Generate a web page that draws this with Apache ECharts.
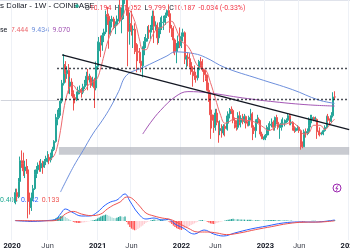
<!DOCTYPE html>
<html>
<head>
<meta charset="utf-8">
<script src="https://cdn.jsdelivr.net/npm/echarts@6/dist/echarts.min.js"></script>
<style>
    html, body {margin:0;padding:0;background:#fff;}
    #chart {width:350px;height:250px;}
</style>
</head>
<body>
<div id="chart"></div>
<script>
    // weekly categories, first one is the week of 2019-11-11
    var weekCount = 217;
    var firstCandle = 9; // first candle = week of 2020-01-13

    // weekly candles: [open, close, low, high]
    var candles = [
        [2.25,2.6,2.2,2.75],[2.6,2.45,2.3,2.75],[2.45,3.05,2.4,3.2],[3.05,4.1,3.0,4.35],[4.1,3.95,3.7,4.75],
        [3.95,3.55,3.3,4.6],[3.55,3.75,3.2,4.1],[3.75,3.6,3.4,4.2],[3.6,2.3,1.8,3.8],[2.3,2.1,1.9,2.6],
        [2.1,2.4,2.0,2.6],[2.4,2.75,2.3,2.9],[2.75,3.35,2.7,3.6],[3.35,3.6,3.2,3.8],[3.6,3.85,3.4,4.0],
        [3.85,3.7,3.5,4.1],[3.7,3.95,3.5,4.2],[3.95,3.75,3.4,4.1],[3.75,4.05,3.7,4.2],[4.05,4.25,3.85,4.4],
        [4.25,4.3,4.0,4.7],[4.3,4.15,3.9,4.5],[4.15,4.4,4.0,4.6],[4.4,4.8,4.3,5.0],[4.8,5.4,4.7,5.5],
        [5.4,7.4,5.3,8.0],[7.4,7.6,6.8,8.5],[7.6,8.2,7.4,8.7],[8.2,9.6,7.8,10.0],[9.6,12.4,9.3,13.0],
        [12.4,16.2,12.0,18.8],[16.2,14.2,12.5,17.0],[14.2,14.9,13.2,15.8],[14.9,11.9,10.7,16.3],[11.9,12.6,10.6,13.6],
        [12.6,10.9,10.3,13.3],[10.9,10.1,8.4,11.2],[10.1,9.8,9.3,10.6],[9.8,10.6,9.6,11.0],[10.6,11.2,10.4,11.8],
        [11.2,11.3,10.6,12.0],[11.3,10.9,10.1,11.6],[10.9,11.8,10.6,12.3],[11.8,12.3,11.4,13.0],[12.3,13.7,12.0,14.6],
        [13.7,13.0,11.2,15.2],[13.0,13.4,12.5,14.2],[13.4,12.0,11.6,13.8],[12.0,13.0,11.8,13.6],[13.0,11.6,8.7,13.4],
        [11.6,15.8,11.2,16.9],[15.8,19.7,15.0,22.5],[19.7,22.2,17.5,24.0],[22.2,21.4,18.0,24.5],[21.4,24.5,19.7,25.5],
        [24.5,25.8,22.3,27.0],[25.8,33.0,25.0,35.0],[33.0,32.3,28.5,36.9],[32.3,25.0,20.3,33.5],[25.0,30.0,24.5,31.0],
        [30.0,31.0,27.5,32.5],[31.0,27.5,26.8,32.0],[27.5,28.6,25.0,30.0],[28.6,31.0,28.0,32.6],[31.0,36.6,30.0,38.0],
        [36.6,30.8,29.5,44.3],[30.8,31.6,25.3,36.5],[31.6,41.4,31.0,42.2],[41.4,49.5,38.5,52.0],[49.5,36.5,32.5,52.8],
        [36.5,26.0,15.8,41.0],[26.0,29.0,21.5,34.0],[29.0,26.5,24.5,35.0],[26.5,26.8,20.5,28.3],[26.8,19.8,18.8,29.2],
        [19.8,19.5,14.5,22.0],[19.5,19.3,17.0,21.6],[19.3,17.0,16.5,20.5],[17.0,15.9,14.5,17.9],[15.9,20.5,13.5,21.0],
        [20.5,22.5,18.5,24.0],[22.5,23.5,20.5,25.0],[23.5,26.5,22.5,28.0],[26.5,25.7,23.5,28.5],[25.7,27.5,23.3,28.5],
        [27.5,32.3,26.5,35.0],[32.3,28.0,22.0,35.0],[28.0,28.4,26.5,30.0],[28.4,23.7,21.5,29.5],[23.7,26.2,22.0,27.5],
        [26.2,29.5,25.0,31.8],[29.5,29.6,26.5,32.5],[29.6,31.3,26.5,32.5],[31.3,32.6,28.5,34.0],[32.6,35.0,31.5,35.5],
        [35.0,33.5,32.0,38.2],[33.5,27.2,25.5,34.0],[27.2,25.8,24.0,28.5],[25.8,23.0,19.0,28.0],[23.0,19.5,18.5,23.5],
        [19.5,20.5,16.5,22.0],[20.5,22.5,19.5,24.5],[22.5,21.2,20.5,27.5],[21.2,24.2,20.5,25.6],[24.2,25.5,22.5,27.0],
        [25.5,17.5,16.3,26.0],[17.5,18.0,15.5,18.5],[18.0,17.6,15.8,19.3],[17.6,16.7,15.5,19.0],[16.7,14.6,14.0,17.5],
        [14.6,14.5,11.8,15.8],[14.5,13.8,13.0,16.0],[13.8,13.4,12.5,14.6],[13.4,15.0,12.9,15.5],[15.0,16.9,14.8,17.3],
        [16.9,15.9,15.5,18.0],[15.9,15.0,14.6,17.5],[15.0,14.0,12.6,15.3],[14.0,13.3,12.8,15.0],[13.3,11.2,11.0,14.0],
        [11.2,10.6,9.5,12.5],[10.6,7.9,5.6,10.9],[7.9,7.3,6.5,8.5],[7.3,6.6,6.1,7.9],[6.6,8.1,6.3,8.6],
        [8.1,7.1,6.8,8.6],[7.1,6.3,5.3,7.2],[6.3,6.5,5.9,7.3],[6.5,6.1,5.7,6.9],[6.1,6.7,5.9,6.9],
        [6.7,6.5,5.8,6.9],[6.5,7.0,6.4,7.8],[7.0,8.0,6.3,8.3],[8.0,8.5,7.5,8.7],[8.5,8.4,8.0,8.9],
        [8.4,7.3,7.0,8.6],[7.3,6.9,6.5,7.6],[6.9,6.6,6.3,7.3],[6.6,7.8,6.4,8.2],[7.8,7.1,6.8,8.3],
        [7.1,7.5,6.6,7.8],[7.5,7.2,6.9,8.0],[7.2,7.7,7.0,8.0],[7.7,7.0,6.5,7.8],[7.0,6.8,6.7,7.2],
        [6.8,7.6,6.7,7.8],[7.6,8.0,7.3,8.6],[8.0,6.6,5.5,8.2],[6.6,6.3,6.0,6.8],[6.3,7.3,5.7,7.4],
        [7.3,7.4,7.0,7.9],[7.4,7.3,7.0,7.6],[7.3,6.0,5.8,7.3],[6.0,5.6,5.6,6.2],[5.6,5.6,5.5,5.8],
        [5.6,5.9,5.5,6.0],[5.9,6.6,5.7,6.8],[6.6,6.8,5.9,7.0],[6.8,6.9,6.3,7.2],[6.9,7.1,6.6,7.5],
        [7.1,6.6,6.3,7.3],[6.6,7.6,6.3,7.7],[7.6,7.1,6.9,7.9],[7.1,6.6,6.4,7.2],[6.6,6.6,5.6,6.9],
        [6.6,7.0,6.3,7.4],[7.0,7.0,6.6,7.6],[7.0,7.1,6.7,7.4],[7.1,7.3,7.0,7.5],[7.3,7.8,7.1,8.1],
        [7.8,7.0,6.8,8.0],[7.0,7.1,6.8,7.4],[7.1,6.6,6.3,7.2],[6.6,6.3,6.1,6.7],[6.3,6.5,6.2,6.6],
        [6.5,6.6,6.3,6.8],[6.6,6.3,6.1,6.7],[6.3,5.2,4.8,6.4],[5.2,5.0,4.9,5.4],[5.0,6.2,5.0,6.4],
        [6.2,6.1,5.7,6.5],[6.1,6.2,5.9,6.5],[6.2,6.8,6.0,7.6],[6.8,7.4,6.6,7.9],[7.4,7.6,7.0,7.9],
        [7.6,7.4,7.2,7.7],[7.4,7.4,7.2,7.7],[7.4,6.2,5.6,7.5],[6.2,6.1,5.9,6.3],[6.1,6.0,5.8,6.6],
        [6.0,6.1,5.9,6.2],[6.1,6.3,5.9,6.4],[6.3,6.6,6.2,6.8],[6.6,7.7,6.5,7.8],[7.7,7.3,7.1,8.0],
        [7.3,7.2,6.9,7.5],[7.2,7.8,7.0,8.2],[7.8,10.19,7.6,10.9],[10.194,10.187,9.799,11.052]
    ];

    // moving averages: [week index, price]
    var maRed = [[30,4.1],[33,4.4],[35,5.0],[37,6.3],[39,8.5],[41,10.5],[43,11.8],[45,12.0],[47,11.3],[49,10.9],
        [52,11.2],[55,12.3],[58,12.8],[60,13.4],[62,15.5],[64,18.5],[66,22],[68,25],[70,27.5],[73,29],[76,33],
        [78,36],[80,35],[82,32],[84,28],[86,23],[88,20],[90,20],[92,22],[94,24.5],[97,27],[100,27.5],[103,29.5],
        [106,30],[108,28],[110,25],[112,22.5],[115,21.5],[118,19.5],[121,16.5],[124,15.3],[127,15.0],[130,12.5],
        [133,10],[136,8],[139,7],[142,7.2],[145,7.5],[148,7.4],[152,7.3],[156,7.2],[160,6.9],[163,6.6],[166,6.3],
        [169,6.5],[172,6.9],[176,6.9],[180,7.1],[184,6.7],[188,6.0],[191,6.1],[194,6.8],[198,6.8],[201,6.4],
        [204,6.9],[207,7.44]];
    var maBlue = [[36.7,2.62],[44.8,3.76],[51,4.74],[57.2,6.0],[62.7,7.31],[67.7,8.8],[72.7,11.0],[78.2,13.9],
        [88.2,15.5],[103,18.3],[108,19.4],[120.4,18.9],[126.6,17.9],[139,15.5],[159.5,13.2],[180.5,11.3],
        [196.6,9.76],[207,9.3]];
    var maPurple = [[87.5,6.0],[92.5,7.1],[98.7,8.4],[108,10.19],[116,11.0],[128.5,10.8],[149.5,10.05],
        [170,9.5],[190.5,9.1],[207,8.95]];

    // MACD histogram, one value per candle from firstCandle
    var hist = [0.1,0.1,0.2,0.4,0.5,0.4,0.2,0.1,-0.3,-0.5,-0.5,-0.4,-0.2,-0.1,0.1,0.1,0.1,0.2,0.2,0.2,0.2,0.3,
        0.4,0.6,0.9, 1.3,1.7,2.1,2.4,2.6,2.5,2.0, 1.5,1.0,0.5,0.1,
        -0.4,-0.7,-0.9,-1.0,-1.0,-0.9,-0.8,-0.6,-0.4,-0.2,-0.1, 0.1,0.3,0.5,0.8,
        1.3,1.8,2.2,2.6,2.9,3.2,3.0,2.6,2.2,1.8,1.5,1.4,1.6,2.0, 2.4,2.3,2.0,2.2,
        -0.5,-1.8,-3.0,-3.8,-4.3,-4.6,-4.5,-4.0,-3.4,-2.8,-2.2,-1.5,-0.9, -0.4,-0.1,0.2,
        0.5,0.8,0.7,0.6,0.5,0.6,0.7,0.6,0.4,0.3,
        -0.2,-0.8,-1.5,-2.3,-3.0,-3.6,-4.0,-4.3,-4.5,-4.2,-3.8,-3.5,-3.0,-2.5,-2.0,-1.6,-1.2,-0.8,-0.4,
        0.2,0.4,0.5,0.3,0.1, -0.4,-0.8,-1.2,-1.4,-1.5,-1.3,-1.0,-0.7,-0.4, -0.2,0.0,0.2,0.4,
        0.6,0.8,1.0,1.1,1.0,0.9,0.9,0.8,0.8,0.7,0.7,0.6,0.6,0.6,0.6,0.5,0.4,0.4,0.4,0.4,
        0.3,0.2,0.2,0.3,0.4,0.4,0.5,0.5,0.5,0.5,0.4,0.4,0.4,0.3,0.3,
        0.3,0.3,0.3,0.2,0.2,0.1,0.0,-0.1,-0.1,-0.2,-0.3,-0.4,-0.4,-0.3,-0.2,-0.1,0.0,0.1,0.1,0.1,
        0.0,-0.1,-0.2,-0.2,-0.2,-0.1,0.0,0.1,0.1,0.1,0.3,0.4];
    var macdLine = [[9,0.2],[20,-0.2],[30,0.3],[34,0.8],[37,3.5],[40,6.0],[44,4.5],[50,2.5],[55,2.5],[60,4.5],
        [64,7.5],[68,9.5],[72,10.5],[77,13.5],[80,10],[85,4],[90,1],[95,1.5],[100,0.5],[104,0.8],[108,-1.5],
        [113,-3.5],[120,-6.5],[126,-4.5],[132,-6.5],[138,-7.5],[145,-6],[155,-4],[165,-2.5],[175,-1],[185,-0.5],
        [195,-0.5],[207,0.5]];
    var signalLine = [[9,0.2],[30,0.1],[36,0.8],[40,3.5],[45,4.8],[50,3.5],[56,2.7],[62,3.5],[66,6.0],[70,8.0],
        [74,9.5],[78,12],[81,11.5],[86,7.5],[90,4],[95,2.5],[100,1.5],[105,0.8],[110,-1],[116,-3.5],[122,-5.5],
        [128,-5.5],[134,-6],[140,-6.8],[148,-6],[158,-4.3],[168,-2.8],[178,-1.3],[188,-0.6],[198,-0.5],[207,0.1]];

    // drawings on the price pane
    var trendLine = [[38,18.6],[216,6.38]];
    var dottedLevels = [15.4, 9.9];
    var levelStart = 35;
    var supportZone = [4.46, 4.98];
    var zoneStart = 36;

    // time axis labels: [week index, text]
    var tickLabels = [[7,'2020'],[29,'Jun'],[60,'2021'],[81,'Jun'],[112,'2022'],[133,'Jun'],[164,'2023'],[185,'Jun'],[216,'2024']];

    var weeks = [];
    var t = Date.UTC(2019, 10, 11);
    for (var k = 0; k < weekCount; k++) {
        weeks.push(new Date(t + k * 7 * 864e5).toISOString().slice(0, 10));
    }
    var tickIdx = tickLabels.map(function (d) { return d[0]; });

    var candleData = weeks.map(function (w, k) {
        var c = candles[k - firstCandle];
        return c ? c : ['-', '-', '-', '-'];
    });
    var histData = weeks.map(function (w, k) {
        var v = hist[k - firstCandle];
        return v === undefined ? '-' : v;
    });

    var font = 'Roboto, "Noto Sans", sans-serif';
    var chart = echarts.init(document.getElementById('chart'));

    var option = {
        animation: false,
        backgroundColor: '#fff',
        grid: [
            {left: 0, right: 0, top: 0, height: 193, outerBoundsMode: 'none'},
            {left: 0, right: 0, top: 190, height: 50, outerBoundsMode: 'none'}
        ],
        xAxis: [
            {type: 'category', gridIndex: 0, data: weeks, boundaryGap: true,
                axisLine: {show: false}, axisTick: {show: false}, axisLabel: {show: false},
                splitLine: {show: true, interval: function (i) { return tickIdx.indexOf(i) >= 0; },
                    lineStyle: {color: '#eef1f6', width: 1}}},
            {type: 'category', gridIndex: 1, data: weeks, boundaryGap: true,
                axisLine: {show: false}, axisTick: {show: false},
                splitLine: {show: true, interval: function (i) { return tickIdx.indexOf(i) >= 0; },
                    lineStyle: {color: '#eef1f6', width: 1}},
                axisLabel: {
                    show: true, margin: 2, fontSize: 7.5, color: '#131722', fontFamily: font,
                    interval: function (i) { return tickIdx.indexOf(i) >= 0; },
                    formatter: function (v, i) {
                        var txt = tickLabels[tickIdx.indexOf(i)];
                        if (!txt) return '';
                        return /^\d+$/.test(txt[1]) ? '{y|' + txt[1] + '}' : '{m|' + txt[1] + '}';
                    },
                    rich: {
                        y: {fontSize: 7.5, fontWeight: 'bold', color: '#131722', fontFamily: font},
                        m: {fontSize: 7.5, color: '#434651', fontFamily: font}
                    }
                }}
        ],
        yAxis: [
            {type: 'log', gridIndex: 0, logBase: 10, min: 2.585, max: 40.7,
                axisLine: {show: false}, axisTick: {show: false}, axisLabel: {show: false}, splitLine: {show: false}},
            {type: 'value', gridIndex: 1, min: -9.5, max: 15.5,
                axisLine: {show: false}, axisTick: {show: false}, axisLabel: {show: false}, splitLine: {show: false}}
        ],
        series: [
            {
                type: 'candlestick', xAxisIndex: 0, yAxisIndex: 0, data: candleData,
                barWidth: 1.5, clip: true,
                itemStyle: {color: '#26a69a', color0: '#ef5350', borderColor: '#26a69a', borderColor0: '#ef5350', borderWidth: 1},
                markArea: {
                    silent: true,
                    itemStyle: {color: 'rgba(178,181,190,0.7)'},
                    data: [[{coord: [zoneStart, supportZone[1]]}, {coord: [weekCount - 1, supportZone[0]]}]]
                },
                markLine: {
                    silent: true, symbol: 'none', label: {show: false},
                    data: [
                        [{coord: trendLine[0], lineStyle: {color: '#131722', width: 1.3, type: 'solid'}},
                         {coord: trendLine[1]}],
                        [{coord: [levelStart, dottedLevels[0]], lineStyle: {color: '#131722', width: 1.3, type: [1.5, 2.5]}},
                         {coord: [weekCount - 1, dottedLevels[0]]}],
                        [{coord: [levelStart, dottedLevels[1]], lineStyle: {color: '#131722', width: 1.3, type: [1.5, 2.5]}},
                         {coord: [weekCount - 1, dottedLevels[1]]}],
                        [{coord: [0, dottedLevels[1] * 0.985], lineStyle: {color: '#d1d4dc', width: 1, type: 'solid'}},
                         {coord: [levelStart, dottedLevels[1] * 0.985]}]
                    ]
                }
            },
            {type: 'line', xAxisIndex: 0, yAxisIndex: 0, data: maPurple, smooth: 0.4, showSymbol: false,
                lineStyle: {color: '#a457b5', width: 1}, clip: true},
            {type: 'line', xAxisIndex: 0, yAxisIndex: 0, data: maBlue, smooth: 0.4, showSymbol: false,
                lineStyle: {color: '#6d8fdc', width: 1}, clip: true},
            {type: 'line', xAxisIndex: 0, yAxisIndex: 0, data: maRed, smooth: 0.4, showSymbol: false,
                lineStyle: {color: '#ec6a6f', width: 1}, clip: true},
            {
                type: 'bar', xAxisIndex: 1, yAxisIndex: 1, data: histData, barWidth: 1.3,
                itemStyle: {
                    color: function (p) {
                        var v = p.value, prev = histData[p.dataIndex - 1];
                        if (typeof prev !== 'number') prev = 0;
                        if (v >= 0) return v >= prev ? '#26a69a' : '#b2dfdb';
                        return v <= prev ? '#ff5252' : '#ffcdd2';
                    }
                }
            },
            {type: 'line', xAxisIndex: 1, yAxisIndex: 1, data: macdLine, smooth: 0.4, showSymbol: false,
                lineStyle: {color: '#2962ff', width: 1}},
            {type: 'line', xAxisIndex: 1, yAxisIndex: 1, data: signalLine, smooth: 0.4, showSymbol: false,
                lineStyle: {color: '#ef5350', width: 1}}
        ],
        graphic: [
            {type: 'rect', shape: {x: 0, y: 0, width: 350, height: 1}, style: {fill: '#e0e3eb'}},
            {type: 'text', x: 0, y: 2, style: {text: 's Dollar - 1W - COINBASE', fontSize: 8, fill: '#131722', font: '8px ' + font}},
            {type: 'circle', shape: {cx: 77, cy: 6, r: 1.8}, style: {fill: '#22ab94'}},
            {type: 'text', x: 85, y: 2.5, style: {
                text: '{k|O}{v|10.194} {k|H}{v|11.052} {k|L}{v|9.799} {k|C}{v|10.187} {v|-0.034 (-0.33%)}',
                rich: {k: {fontSize: 7, fill: '#131722', fontFamily: font}, v: {fontSize: 7, fill: '#f23645', fontFamily: font}}
            }},
            {type: 'text', x: 0, y: 24, style: {
                text: '{k|se} {r|7.444} {b|9.434} {p|9.070}',
                rich: {k: {fontSize: 7, fill: '#131722', fontFamily: font}, r: {fontSize: 7, fill: '#ec6a6f', fontFamily: font},
                    b: {fontSize: 7, fill: '#6d8fdc', fontFamily: font}, p: {fontSize: 7, fill: '#a457b5', fontFamily: font}}
            }},
            {type: 'text', x: 0, y: 194.5, style: {
                text: '{h|0.408} {m|0.542} {s|0.133}',
                rich: {h: {fontSize: 7, fill: '#22ab94', fontFamily: font}, m: {fontSize: 7, fill: '#2962ff', fontFamily: font},
                    s: {fontSize: 7, fill: '#ef5350', fontFamily: font}}
            }},
            {type: 'circle', shape: {cx: 337, cy: 188, r: 4}, style: {fill: '#fff', stroke: '#9c27b0', lineWidth: 1}},
            {type: 'polyline', shape: {points: [[338, 185.3], [335.8, 188.4], [337.8, 188.4], [336.3, 190.8]]},
                style: {stroke: '#9c27b0', lineWidth: 0.9, fill: null}}
        ]
    };
    chart.setOption(option);
</script>
</body>
</html>
